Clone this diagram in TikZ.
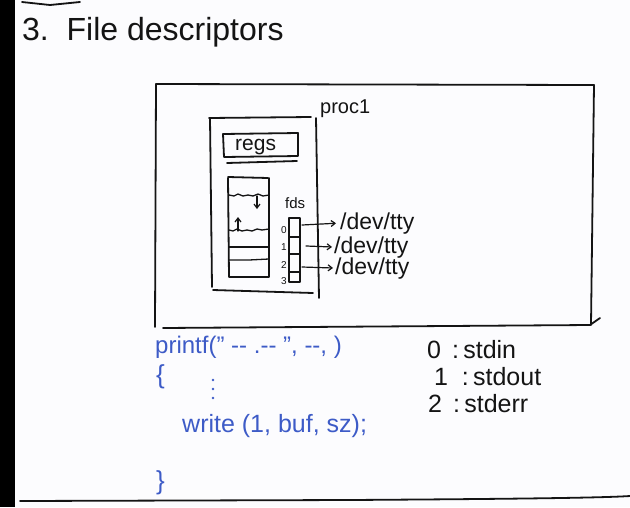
\documentclass[tikz,border=0pt]{standalone}
\usepackage{fontspec}
\setmainfont{Liberation Sans}
\usetikzlibrary{arrows.meta}
\definecolor{ink}{HTML}{141414}
\definecolor{pen}{HTML}{3D5BC7}
\definecolor{paper}{HTML}{FCFCFE}
\newcommand{\dq}{\symbol{"22}}
\begin{document}
\begin{tikzpicture}[x=1pt,y=-1pt,line cap=round,line join=round,
  inkline/.style={draw=ink,line width=1.8pt},
  thinline/.style={draw=ink,line width=1.3pt},
  arr/.style={draw=ink,line width=1.2pt,-{Straight Barb[length=4pt,width=6pt]}},
  txt/.style={inner sep=0pt,anchor=base west,text=ink},
  bluetxt/.style={inner sep=0pt,anchor=base west,text=pen},
  fs/.style={font=\fontsize{#1}{#1}\selectfont}]
\fill[paper] (0,0) rectangle (630,507);
\useasboundingbox (0,0) rectangle (630,507);
\fill[black] (0,0) rectangle (15,507);
% page rules
\draw[inkline] (22,2) -- (50,5) -- (80,2);
\draw[inkline] (20,501) -- (350,500) .. controls (500,499) and (600,498) .. (630,496);
% title
\node[txt,fs=32] (title) at (22,40) {3.\ \ File descriptors};
% outer process box
\draw[inkline] (156,84) -- (594,85);
\draw[inkline] (594,85) -- (591,325);
\draw[inkline] (156,84) -- (155,327);
\draw[inkline] (163,328) -- (590,325) -- (600,318);
\node[txt,fs=20] (proc) at (320,113) {proc1};
% inner memory box
\draw[inkline] (209,118) -- (311,117);
\draw[inkline] (210,118) -- (212,287);
\draw[inkline] (213,290) -- (313,293);
\draw[inkline] (316,118) -- (319,298);
% regs
\draw[inkline] (223,134) -- (298,133) -- (298,156) -- (224,157) -- cycle;
\draw[inkline] (227,163) -- (297,161);
\node[txt,fs=21] (regs) at (235,150) {regs};
% stack
\draw[inkline] (228,177) -- (268,178);
\draw[inkline] (228,178) -- (229,277) -- (269,277) -- (269,178);
\draw[thinline] (229,195) -- (234,196) -- (238,194) -- (243,196) -- (248,195) -- (253,196) -- (258,194) -- (263,196) -- (269,195);
\draw[thinline] (229,230) -- (233,231) -- (237,229) -- (242,231) -- (247,230) -- (252,231) -- (257,229) -- (262,230) -- (269,229);
\draw[thinline] (229,247) -- (269,247);
\draw[thinline] (229,260) -- (249,260) -- (269,259);
\coordinate (dn0) at (257,196);
\coordinate (dn1) at (257,209);
\coordinate (up0) at (238,231);
\coordinate (up1) at (238,217);
\draw[arr] (dn0) -- (dn1);
\draw[arr] (up0) -- (up1);
% fds table
\node[txt,fs=15] (fds) at (285,208) {fds};
\draw[inkline] (289,218) rectangle (300,282);
\draw[thinline] (289,237) -- (300,237);
\draw[thinline] (289,254) -- (300,254);
\draw[thinline] (289,272) -- (300,272);
\node[txt,fs=10] (n0) at (281,233) {0};
\node[txt,fs=10] (n1) at (281,250) {1};
\node[txt,fs=10] (n2) at (281,268) {2};
\node[txt,fs=10] (n3) at (281,284) {3};
\coordinate (c0) at (302,225);
\coordinate (c1) at (306,246);
\coordinate (c2) at (302,267);
\node[txt,fs=23] (tty0) at (340,229) {/dev/tty};
\node[txt,fs=23] (tty1) at (334,253) {/dev/tty};
\node[txt,fs=23] (tty2) at (335,274) {/dev/tty};
\draw[arr,shorten >=4pt] (c0) -- (tty0.west);
\draw[arr,shorten >=2pt] (c1) -- (tty1.west);
\draw[arr,shorten >=2pt] (c2) -- (tty2.west);
% code
\node[bluetxt,fs=24] (printf) at (155,353) {printf(\dq\ -{}- .-{}- \dq, -{}-, )};
\node[bluetxt,fs=26] (lb) at (156,383) {\{};
\fill[pen] (213,380) circle (1.3pt) (213,389) circle (1.3pt) (213,398) circle (1.3pt);
\node[bluetxt,fs=25] (write) at (182,432) {write (1, buf, sz);};
\node[bluetxt,fs=26] (rb) at (156,489) {\}};
% std streams
\node[txt,fs=25] (s0) at (427,358) {0\,\ :\,stdin};
\node[txt,fs=25] (s1) at (434,385) {1\ \ :\,stdout};
\node[txt,fs=25] (s2) at (428,412) {2\,\ :\,stderr};
\end{tikzpicture}
\end{document}
